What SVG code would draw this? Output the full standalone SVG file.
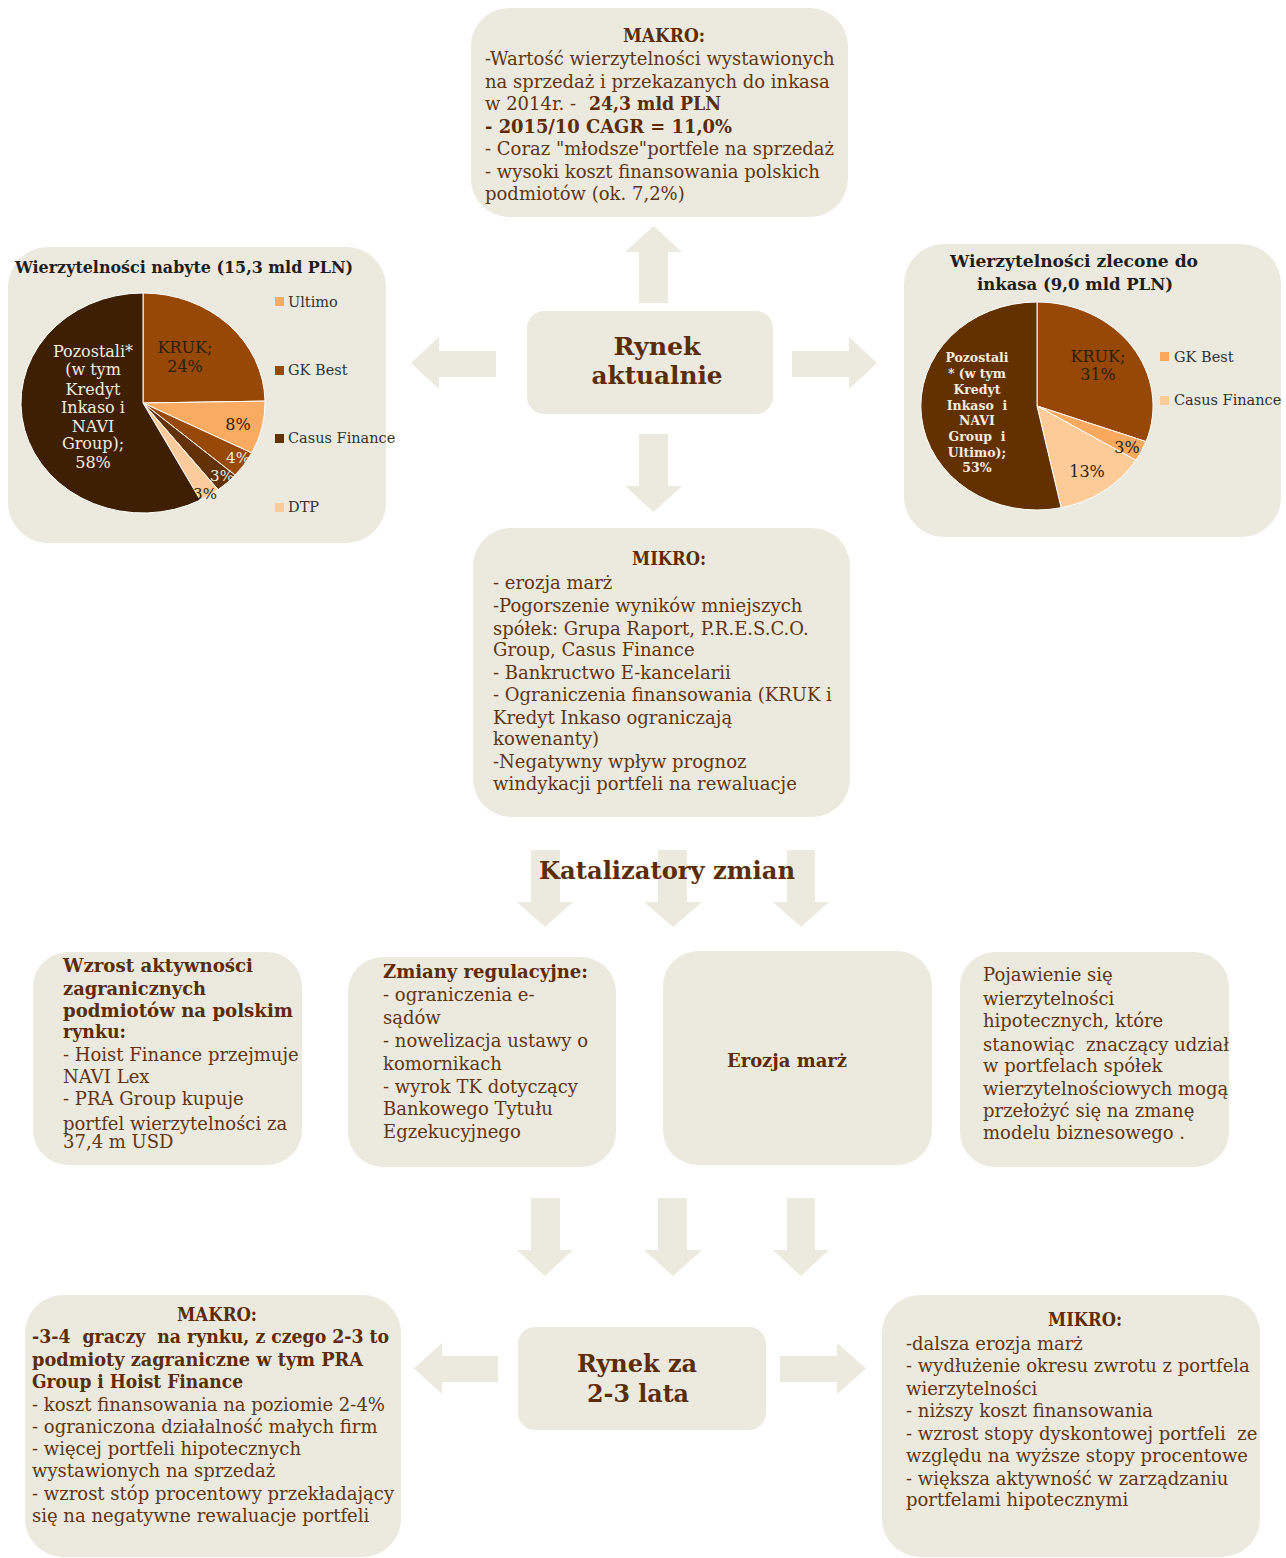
<svg xmlns="http://www.w3.org/2000/svg" width="1286" height="1558" viewBox="0 0 1286 1558">
<style>
.bg{fill:#ffffff}
.box{fill:#ECE9DF}
.arr{fill:#ECE9DF}
text{white-space:pre}
.t{font-family:"DejaVu Serif","Liberation Serif",serif;font-size:18px;fill:#5f3613}
.b{font-weight:bold;fill:#5a2c08}
.h{font-family:"DejaVu Serif","Liberation Serif",serif;font-weight:bold;fill:#5a2c08;font-size:25px}
.ttl{font-family:"DejaVu Serif","Liberation Serif",serif;font-weight:bold;fill:#1e1e1e;font-size:16px}
.lg{font-family:"DejaVu Serif","Liberation Serif",serif;font-size:14.5px;fill:#333333}
.pl{font-family:"DejaVu Serif","Liberation Serif",serif;font-size:16px;fill:#2d1e0f}
.pw{font-family:"DejaVu Serif","Liberation Serif",serif;font-size:16px;fill:#f3ece2}
.ps{font-size:15px}
.pb{font-family:"DejaVu Serif","Liberation Serif",serif;font-size:12.5px;font-weight:bold;fill:#f3ece2}
.sl{stroke:#ffffff;stroke-width:1}
</style>
<rect class="bg" x="0" y="0" width="1286" height="1558"/>

<g id="connectors">
  <polygon class="arr" points="639,303 639,252 625,252 653.5,226 682,252 668,252 668,303"/>
  <polygon class="arr" points="639,434 668,434 668,486 682,486 653.5,512 625,486 639,486"/>
  <polygon class="arr" points="496,351 496,377 439,377 439,389 411,363 439,337 439,351"/>
  <polygon class="arr" points="792,351 849,351 849,337 877,363 849,389 849,377 792,377"/>
  <polygon class="arr" points="531,850 560,850 560,902 573,902 545,927 517,902 531,902"/>
  <polygon class="arr" points="658,850 687,850 687,902 702,902 673,927 644,902 658,902"/>
  <polygon class="arr" points="787,850 815,850 815,902 829,902 801,927 773,902 787,902"/>
  <polygon class="arr" points="531,1198 560,1198 560,1250 573,1250 545,1276 517,1250 531,1250"/>
  <polygon class="arr" points="658,1198 687,1198 687,1250 702,1250 673,1276 644,1250 658,1250"/>
  <polygon class="arr" points="787,1198 815,1198 815,1250 829,1250 801,1276 773,1250 787,1250"/>
  <polygon class="arr" points="498,1356 498,1382 442,1382 442,1394 414,1368.5 442,1343 442,1356"/>
  <polygon class="arr" points="780,1356 837,1356 837,1343 866,1368.5 837,1394 837,1382 780,1382"/>
</g>

<g id="makro-top">
  <rect class="box" x="471" y="8" width="377" height="209" rx="38"/>
  <text class="t b" x="664" y="42" text-anchor="middle" textLength="82" lengthAdjust="spacingAndGlyphs">MAKRO:</text>
  <text class="t" x="485" y="65">-Wartość wierzytelności wystawionych</text>
  <text class="t" x="485" y="88">na sprzedaż i przekazanych do inkasa</text>
  <text class="t" x="485" y="110">w 2014r. - <tspan class="b" x="589" textLength="132" lengthAdjust="spacingAndGlyphs">24,3 mld PLN</tspan></text>
  <text class="t b" x="485" y="133" textLength="247" lengthAdjust="spacingAndGlyphs">- 2015/10 CAGR = 11,0%</text>
  <text class="t" x="485" y="155">- Coraz "młodsze"portfele na sprzedaż</text>
  <text class="t" x="485" y="178">- wysoki koszt finansowania polskich</text>
  <text class="t" x="485" y="200">podmiotów (ok. 7,2%)</text>
</g>

<g id="rynek-aktualnie">
  <rect class="box" x="527" y="311" width="246" height="103" rx="17"/>
  <text class="h" x="657" y="355" text-anchor="middle" textLength="87" lengthAdjust="spacingAndGlyphs">Rynek</text>
  <text class="h" x="657" y="384" text-anchor="middle" textLength="131" lengthAdjust="spacingAndGlyphs">aktualnie</text>
</g>

<g id="pie-nabyte">
  <rect class="box" x="8" y="247" width="378" height="296" rx="40"/>
  <text class="ttl" x="15" y="273" textLength="338" lengthAdjust="spacingAndGlyphs">Wierzytelności nabyte (15,3 mld PLN)</text>
  <path class="sl" fill="#974706" d="M143,403 L143,293 A122,110 0 0 1 265,401.1 Z"/>
  <path class="sl" fill="#F9AB62" d="M143,403 L265,401.1 A122,110 0 0 1 251.7,452.9 Z"/>
  <path class="sl" fill="#984807" d="M143,403 L251.7,452.9 A122,110 0 0 1 235.1,475.2 Z"/>
  <path class="sl" fill="#623204" d="M143,403 L235.1,475.2 A122,110 0 0 1 218.1,489.7 Z"/>
  <path class="sl" fill="#FBCB9C" d="M143,403 L218.1,489.7 A122,110 0 0 1 200.3,500.1 Z"/>
  <path class="sl" fill="#3E1F03" d="M143,403 L200.3,500.1 A122,110 0 1 1 143,293 Z"/>
  <text class="pl" x="185" y="353" text-anchor="middle">KRUK;</text>
  <text class="pl" x="185" y="372" text-anchor="middle">24%</text>
  <text class="pl" x="238" y="430" text-anchor="middle">8%</text>
  <text class="pw ps" x="238" y="463" text-anchor="middle">4%</text>
  <text class="pw ps" x="222" y="481" text-anchor="middle">3%</text>
  <text class="pl ps" x="205" y="499" text-anchor="middle">3%</text>
  <text class="pw" x="93" y="357" text-anchor="middle">Pozostali*</text>
  <text class="pw" x="93" y="375" text-anchor="middle">(w tym</text>
  <text class="pw" x="93" y="395" text-anchor="middle">Kredyt</text>
  <text class="pw" x="93" y="413" text-anchor="middle">Inkaso i</text>
  <text class="pw" x="93" y="432" text-anchor="middle">NAVI</text>
  <text class="pw" x="93" y="449" text-anchor="middle">Group);</text>
  <text class="pw" x="93" y="468" text-anchor="middle">58%</text>
  <rect x="275" y="297" width="9" height="9" fill="#F9AB62"/>
  <text class="lg" x="288" y="307">Ultimo</text>
  <rect x="275" y="366" width="9" height="9" fill="#984807"/>
  <text class="lg" x="288" y="375">GK Best</text>
  <rect x="275" y="434" width="9" height="9" fill="#623204"/>
  <text class="lg" x="288" y="443">Casus Finance</text>
  <rect x="275" y="503" width="9" height="9" fill="#FBCB9C"/>
  <text class="lg" x="288" y="512">DTP</text>
</g>

<g id="pie-zlecone">
  <rect class="box" x="904" y="244" width="377" height="293" rx="40"/>
  <text class="ttl" x="1074" y="267" text-anchor="middle" textLength="248" lengthAdjust="spacingAndGlyphs">Wierzytelności zlecone do</text>
  <text class="ttl" x="1075" y="290" text-anchor="middle" textLength="196" lengthAdjust="spacingAndGlyphs">inkasa (9,0 mld PLN)</text>
  <path class="sl" fill="#974706" d="M1037,406 L1037,302 A116,104 0 0 1 1146,441.6 Z"/>
  <path class="sl" fill="#F9A95E" d="M1037,406 L1146,441.6 A116,104 0 0 1 1135.9,460.3 Z"/>
  <path class="sl" fill="#FCCB98" d="M1037,406 L1135.9,460.3 A116,104 0 0 1 1061.1,507.7 Z"/>
  <path class="sl" fill="#633100" d="M1037,406 L1061.1,507.7 A116,104 0 1 1 1037,302 Z"/>
  <text class="pl" x="1098" y="362" text-anchor="middle">KRUK;</text>
  <text class="pl" x="1098" y="380" text-anchor="middle">31%</text>
  <text class="pl" x="1127" y="453" text-anchor="middle">3%</text>
  <text class="pl" x="1087" y="477" text-anchor="middle">13%</text>
  <text class="pb" x="977" y="362" text-anchor="middle">Pozostali</text>
  <text class="pb" x="977" y="378" text-anchor="middle">* (w tym</text>
  <text class="pb" x="977" y="394" text-anchor="middle">Kredyt</text>
  <text class="pb" x="977" y="410" text-anchor="middle">Inkaso  i</text>
  <text class="pb" x="977" y="425" text-anchor="middle">NAVI</text>
  <text class="pb" x="977" y="441" text-anchor="middle">Group  i</text>
  <text class="pb" x="977" y="457" text-anchor="middle">Ultimo);</text>
  <text class="pb" x="977" y="472" text-anchor="middle">53%</text>
  <rect x="1160" y="352" width="9" height="9" fill="#F9A95E"/>
  <text class="lg" x="1174" y="362">GK Best</text>
  <rect x="1160" y="396" width="9" height="9" fill="#FCCB98"/>
  <text class="lg" x="1174" y="405">Casus Finance</text>
</g>

<g id="mikro-top">
  <rect class="box" x="473" y="528" width="377" height="289" rx="38"/>
  <text class="t b" x="669" y="565" text-anchor="middle" textLength="74" lengthAdjust="spacingAndGlyphs">MIKRO:</text>
  <text class="t" x="493" y="589">- erozja marż</text>
  <text class="t" x="493" y="612">-Pogorszenie wyników mniejszych</text>
  <text class="t" x="493" y="635">spółek: Grupa Raport, P.R.E.S.C.O.</text>
  <text class="t" x="493" y="656">Group, Casus Finance</text>
  <text class="t" x="493" y="679">- Bankructwo E-kancelarii</text>
  <text class="t" x="493" y="701">- Ograniczenia finansowania (KRUK i</text>
  <text class="t" x="493" y="724">Kredyt Inkaso ograniczają</text>
  <text class="t" x="493" y="745">kowenanty)</text>
  <text class="t" x="493" y="768">-Negatywny wpływ prognoz</text>
  <text class="t" x="493" y="790">windykacji portfeli na rewaluacje</text>
</g>

<g id="katalizatory">
  <text class="h" x="539" y="879" textLength="256" lengthAdjust="spacingAndGlyphs">Katalizatory zmian</text>
</g>

<g id="zagraniczne">
  <rect class="box" x="33" y="952" width="269" height="213" rx="35"/>
  <text class="t b" x="63" y="972" textLength="190" lengthAdjust="spacingAndGlyphs">Wzrost aktywności</text>
  <text class="t b" x="63" y="995" textLength="143" lengthAdjust="spacingAndGlyphs">zagranicznych</text>
  <text class="t b" x="63" y="1017" textLength="230" lengthAdjust="spacingAndGlyphs">podmiotów na polskim</text>
  <text class="t b" x="63" y="1038" textLength="63" lengthAdjust="spacingAndGlyphs">rynku:</text>
  <text class="t" x="63" y="1061">- Hoist Finance przejmuje</text>
  <text class="t" x="63" y="1083">NAVI Lex</text>
  <text class="t" x="63" y="1105">- PRA Group kupuje</text>
  <text class="t" x="63" y="1130">portfel wierzytelności za</text>
  <text class="t" x="63" y="1148">37,4 m USD</text>
</g>

<g id="regulacyjne">
  <rect class="box" x="348" y="957" width="268" height="210" rx="35"/>
  <text class="t b" x="383" y="978" textLength="205" lengthAdjust="spacingAndGlyphs">Zmiany regulacyjne:</text>
  <text class="t" x="383" y="1001">- ograniczenia e-</text>
  <text class="t" x="383" y="1024">sądów</text>
  <text class="t" x="383" y="1047">- nowelizacja ustawy o</text>
  <text class="t" x="383" y="1070">komornikach</text>
  <text class="t" x="383" y="1093">- wyrok TK dotyczący</text>
  <text class="t" x="383" y="1115">Bankowego Tytułu</text>
  <text class="t" x="383" y="1138">Egzekucyjnego</text>
</g>

<g id="erozja">
  <rect class="box" x="663" y="951" width="269" height="214" rx="35"/>
  <text class="t b" x="787" y="1067" text-anchor="middle" textLength="120" lengthAdjust="spacingAndGlyphs">Erozja marż</text>
</g>

<g id="hipoteczne">
  <rect class="box" x="960" y="952" width="269" height="215" rx="35"/>
  <text class="t" x="983" y="981">Pojawienie się</text>
  <text class="t" x="983" y="1005">wierzytelności</text>
  <text class="t" x="983" y="1027">hipotecznych, które</text>
  <text class="t" x="983" y="1051">stanowiąc  znaczący udział</text>
  <text class="t" x="983" y="1072">w portfelach spółek</text>
  <text class="t" x="983" y="1095">wierzytelnościowych mogą</text>
  <text class="t" x="983" y="1117">przełożyć się na zmanę</text>
  <text class="t" x="983" y="1139">modelu biznesowego .</text>
</g>

<g id="rynek-2-3">
  <rect class="box" x="518" y="1327" width="248" height="103" rx="17"/>
  <text class="h" x="637" y="1372" text-anchor="middle" textLength="120" lengthAdjust="spacingAndGlyphs">Rynek za</text>
  <text class="h" x="638" y="1402" text-anchor="middle" textLength="102" lengthAdjust="spacingAndGlyphs">2-3 lata</text>
</g>

<g id="makro-bottom">
  <rect class="box" x="25" y="1295" width="376" height="262" rx="38"/>
  <text class="t b" x="217" y="1321" text-anchor="middle" textLength="80" lengthAdjust="spacingAndGlyphs">MAKRO:</text>
  <text class="t b" x="32" y="1343" textLength="357" lengthAdjust="spacingAndGlyphs">-3-4  graczy  na rynku, z czego 2-3 to</text>
  <text class="t b" x="32" y="1366" textLength="331" lengthAdjust="spacingAndGlyphs">podmioty zagraniczne w tym PRA</text>
  <text class="t b" x="32" y="1388" textLength="211" lengthAdjust="spacingAndGlyphs">Group i Hoist Finance</text>
  <text class="t" x="32" y="1411">- koszt finansowania na poziomie 2-4%</text>
  <text class="t" x="32" y="1433">- ograniczona działalność małych firm</text>
  <text class="t" x="32" y="1455">- więcej portfeli hipotecznych</text>
  <text class="t" x="32" y="1477">wystawionych na sprzedaż</text>
  <text class="t" x="32" y="1500">- wzrost stóp procentowy przekładający</text>
  <text class="t" x="32" y="1522">się na negatywne rewaluacje portfeli</text>
</g>

<g id="mikro-bottom">
  <rect class="box" x="882" y="1295" width="378" height="262" rx="38"/>
  <text class="t b" x="1085" y="1326" text-anchor="middle" textLength="74" lengthAdjust="spacingAndGlyphs">MIKRO:</text>
  <text class="t" x="906" y="1350">-dalsza erozja marż</text>
  <text class="t" x="906" y="1372">- wydłużenie okresu zwrotu z portfela</text>
  <text class="t" x="906" y="1395">wierzytelności</text>
  <text class="t" x="906" y="1417">- niższy koszt finansowania</text>
  <text class="t" x="906" y="1440">- wzrost stopy dyskontowej portfeli  ze</text>
  <text class="t" x="906" y="1462">względu na wyższe stopy procentowe</text>
  <text class="t" x="906" y="1485">- większa aktywność w zarządzaniu</text>
  <text class="t" x="906" y="1506">portfelami hipotecznymi</text>
</g>
</svg>
